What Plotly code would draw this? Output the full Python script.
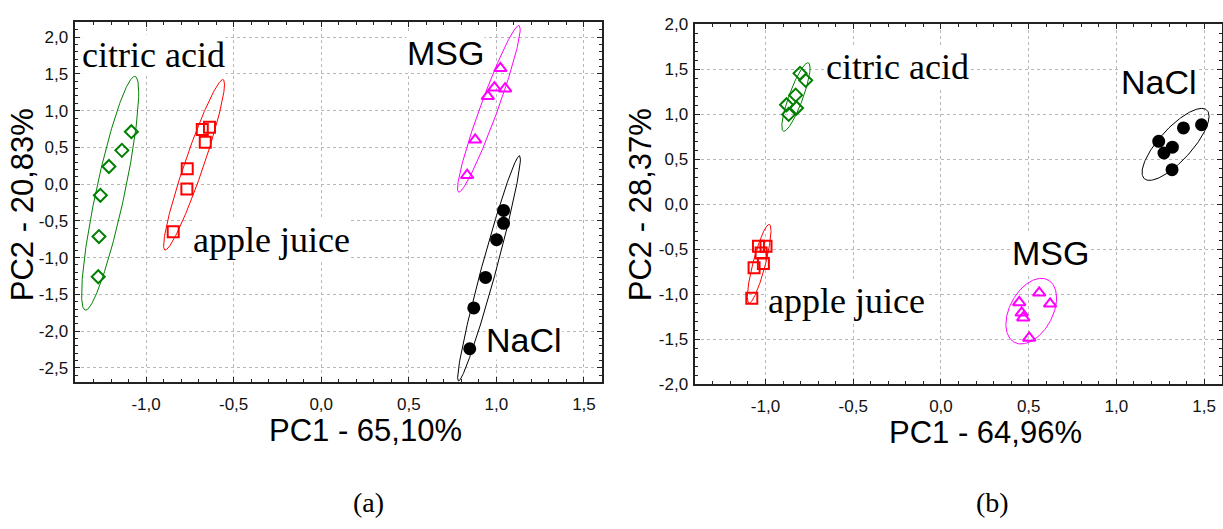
import numpy as np
import plotly.graph_objects as go

W, H = 1223, 529

# ---------------- data: panel (a) ----------------
a_citric_x = [-1.084, -1.138, -1.212, -1.261, -1.269, -1.273]
a_citric_y = [0.714, 0.460, 0.240, -0.152, -0.713, -1.260]
a_apple_x = [-0.679, -0.638, -0.662, -0.765, -0.767, -0.845]
a_apple_y = [0.745, 0.775, 0.570, 0.210, -0.066, -0.647]
a_msg_x = [1.023, 0.989, 1.050, 0.951, 0.879, 0.833]
a_msg_y = [1.576, 1.313, 1.300, 1.195, 0.604, 0.121]
a_nacl_x = [1.041, 1.041, 1.001, 0.938, 0.871, 0.848]
a_nacl_y = [-0.358, -0.533, -0.756, -1.269, -1.685, -2.240]

# ellipse parameters (centre x, centre y, half x-extent, half y-extent, correlation)
a_ell_citric = [-1.205, -0.124, 0.163, 1.591, 0.86]
a_ell_apple = [-0.726, 0.263, 0.174, 1.160, 0.945]
a_ell_msg = [0.957, 1.025, 0.179, 1.134, 0.955]
a_ell_nacl = [0.958, -1.146, 0.179, 1.533, 0.97]

# ---------------- data: panel (b) ----------------
b_citric_x = [-0.803, -0.771, -0.828, -0.880, -0.823, -0.868]
b_citric_y = [1.453, 1.375, 1.211, 1.104, 1.068, 0.997]
b_apple_x = [-1.040, -0.997, -1.025, -1.012, -1.065, -1.078]
b_apple_y = [-0.468, -0.468, -0.543, -0.661, -0.707, -1.047]
b_msg_x = [0.560, 0.622, 0.446, 0.460, 0.469, 0.503]
b_msg_y = [-0.986, -1.108, -1.093, -1.208, -1.262, -1.487]
b_nacl_x = [1.485, 1.382, 1.241, 1.319, 1.271, 1.317]
b_nacl_y = [0.882, 0.847, 0.697, 0.632, 0.568, 0.382]

b_ell_citric = [-0.8265, 1.190, 0.0806, 0.381, 0.85]
b_ell_apple = [-1.036, -0.663, 0.0675, 0.438, 0.84]
b_ell_msg = [0.5145, -1.190, 0.1445, 0.365, 0.40]
b_ell_nacl = [1.337, 0.6635, 0.191, 0.400, 0.78]

# ---------------- ticks & labels ----------------
x_tickvals = [-1.0, -0.5, 0.0, 0.5, 1.0, 1.5]
x_ticktext = ["-1,0", "-0,5", "0,0", "0,5", "1,0", "1,5"]
a_y_tickvals = [2.0, 1.5, 1.0, 0.5, 0.0, -0.5, -1.0, -1.5, -2.0, -2.5]
a_y_ticktext = ["2,0", "1,5", "1,0", "0,5", "0,0", "-0,5", "-1,0", "-1,5", "-2,0", "-2,5"]
b_y_tickvals = [2.0, 1.5, 1.0, 0.5, 0.0, -0.5, -1.0, -1.5, -2.0]
b_y_ticktext = ["2,0", "1,5", "1,0", "0,5", "0,0", "-0,5", "-1,0", "-1,5", "-2,0"]

a_xtitle = "PC1 - 65,10%"
a_ytitle = "PC2 - 20,83%"
b_xtitle = "PC1 - 64,96%"
b_ytitle = "PC2 - 28,37%"
group_names = ["citric acid", "apple juice", "MSG", "NaCl"]
panel_names = ["(a)", "(b)"]

GREEN, RED, MAG, BLK = "#008000", "#ff0000", "#ff00ff", "#000000"


def ellipse(p, n=200):
    cx, cy, rx, ry, rho = p
    t = np.linspace(0, 2 * np.pi, n)
    x = cx + rx * np.cos(t)
    y = cy + ry * (rho * np.cos(t) + np.sqrt(1 - rho ** 2) * np.sin(t))
    return x, y


fig = go.Figure()

styles = [
    (GREEN, "diamond-open", 10),
    (RED, "square-open", 11),
    (MAG, "triangle-up-open", 11),
    (BLK, "circle", 11),
]

panels = [
    ("x", "y", [(a_citric_x, a_citric_y, a_ell_citric), (a_apple_x, a_apple_y, a_ell_apple),
                (a_msg_x, a_msg_y, a_ell_msg), (a_nacl_x, a_nacl_y, a_ell_nacl)]),
    ("x2", "y2", [(b_citric_x, b_citric_y, b_ell_citric), (b_apple_x, b_apple_y, b_ell_apple),
                  (b_msg_x, b_msg_y, b_ell_msg), (b_nacl_x, b_nacl_y, b_ell_nacl)]),
]

for xa, ya, groups in panels:
    for (gx, gy, ep), (col, sym, sz), name in zip(groups, styles, group_names):
        ex, ey = ellipse(ep)
        fig.add_trace(go.Scatter(x=ex, y=ey, xaxis=xa, yaxis=ya, mode="lines",
                                 line=dict(color=col, width=1), showlegend=False,
                                 hoverinfo="skip"))
        fig.add_trace(go.Scatter(x=gx, y=gy, xaxis=xa, yaxis=ya, mode="markers", name=name,
                                 marker=dict(symbol=sym, size=sz, color=col,
                                             line=dict(color=col, width=2)),
                                 showlegend=False))


def px_dom_x(a, b):
    return [a / W, b / W]


def px_dom_y(top, bottom):
    return [1 - bottom / H, 1 - top / H]


axis_common = dict(
    showline=True, linecolor="#222222", linewidth=1.5, mirror="allticks",
    ticks="inside", ticklen=5, tickwidth=1, tickcolor="#222222",
    showgrid=True, gridcolor="#b8b8b8", griddash="dot", gridwidth=1,
    zeroline=False, tickmode="array",
    tickfont=dict(family="Liberation Sans, Arial", size=17, color="#111111"),
    minor=dict(tickmode="linear", tick0=0, dtick=0.1, ticks="inside", ticklen=3,
               tickcolor="#222222", showgrid=False),
)

fig.update_layout(
    width=W, height=H, margin=dict(l=0, r=0, t=0, b=0),
    paper_bgcolor="white", plot_bgcolor="white", showlegend=False,
    xaxis=dict(axis_common, domain=px_dom_x(75.3, 602), range=[-1.404, 1.603], anchor="y",
               tickvals=x_tickvals, ticktext=x_ticktext, ticklabelstandoff=6),
    yaxis=dict(axis_common, domain=px_dom_y(14, 386.7), range=[-2.69, 2.2], anchor="x",
               tickvals=a_y_tickvals, ticktext=a_y_ticktext, ticklabelstandoff=2),
    xaxis2=dict(axis_common, domain=px_dom_x(695.3, 1221.7), range=[-1.40, 1.60], anchor="y2",
                tickvals=x_tickvals, ticktext=x_ticktext, ticklabelstandoff=6),
    yaxis2=dict(axis_common, domain=px_dom_y(15.7, 389), range=[-2.0, 2.0], anchor="x2",
                tickvals=b_y_tickvals, ticktext=b_y_ticktext, ticklabelstandoff=2),
)

SERIF = "Liberation Serif, Times New Roman, serif"
SANS = "Liberation Sans, Arial, sans-serif"

# group labels inside the plots (positions in data units)
label_layout = [
    ("x", "y", group_names[0], -0.957, 1.756, SERIF, 36),
    ("x", "y", group_names[1], -0.284, -0.766, SERIF, 36),
    ("x", "y", group_names[2], 0.707, 1.782, SANS, 34),
    ("x", "y", group_names[3], 1.160, -2.118, SANS, 34),
    ("x2", "y2", group_names[0], -0.245, 1.525, SERIF, 36),
    ("x2", "y2", group_names[1], -0.537, -1.079, SERIF, 36),
    ("x2", "y2", group_names[2], 0.626, -0.543, SANS, 34),
    ("x2", "y2", group_names[3], 1.244, 1.353, SANS, 34),
]
for xr, yr, txt, lx, ly, fam, fs in label_layout:
    fig.add_annotation(xref=xr, yref=yr, x=lx, y=ly, text=txt, showarrow=False,
                       xanchor="center", yanchor="middle", bgcolor="white", borderpad=0,
                       font=dict(family=fam, size=fs, color="black"))

# axis titles & panel letters (pixel positions)
titles = [
    (a_xtitle, 365, 437, 0),
    (a_ytitle, 22.5, 203, -90),
    (b_xtitle, 985, 439, 0),
    (b_ytitle, 640.5, 203, -90),
]
for txt, px, py, ang in titles:
    fig.add_annotation(xref="paper", yref="paper", x=px / W, y=1 - py / H, text=txt,
                       showarrow=False, xanchor="center", yanchor="middle", textangle=ang,
                       font=dict(family=SANS, size=31, color="black"))

for txt, px, py in [(panel_names[0], 368, 512), (panel_names[1], 992, 512)]:
    fig.add_annotation(xref="paper", yref="paper", x=px / W, y=1 - py / H, text=txt,
                       showarrow=False, xanchor="center", yanchor="middle",
                       font=dict(family=SERIF, size=28, color="black"))

fig.write_html("out.html")
